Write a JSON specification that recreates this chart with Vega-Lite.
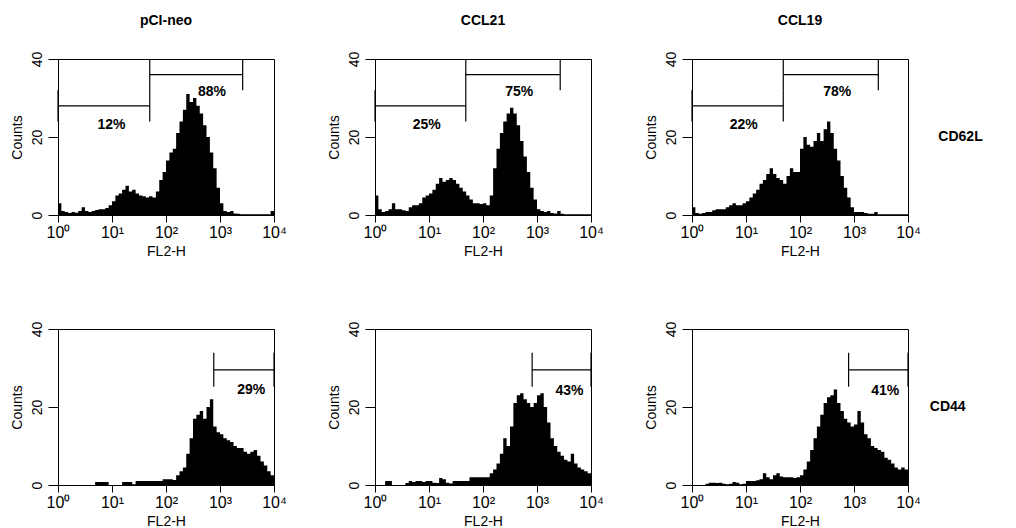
{
"$schema": "https://vega.github.io/schema/vega-lite/v6.json",
"background": "white",
"padding": {"left": 9, "top": 14, "right": 5, "bottom": 3},
"config": {"font": "Liberation Sans", "view": {"stroke": "black", "strokeWidth": 1}, "text": {"font": "Liberation Sans"}},
"data": {"values": [
{"t":"h","c":"pCI-neo","m":"CD62L","x":1,"y":3},{"t":"h","c":"pCI-neo","m":"CD62L","x":1.155,"y":1},{"t":"h","c":"pCI-neo","m":"CD62L","x":1.334,"y":0.8},{"t":"h","c":"pCI-neo","m":"CD62L","x":1.54,"y":0.5},{"t":"h","c":"pCI-neo","m":"CD62L","x":1.778,"y":0.8},{"t":"h","c":"pCI-neo","m":"CD62L","x":2.054,"y":0.6},{"t":"h","c":"pCI-neo","m":"CD62L","x":2.371,"y":1},{"t":"h","c":"pCI-neo","m":"CD62L","x":2.738,"y":2},{"t":"h","c":"pCI-neo","m":"CD62L","x":3.162,"y":1},{"t":"h","c":"pCI-neo","m":"CD62L","x":3.652,"y":0.8},
{"t":"h","c":"pCI-neo","m":"CD62L","x":4.217,"y":1},{"t":"h","c":"pCI-neo","m":"CD62L","x":4.87,"y":1.3},{"t":"h","c":"pCI-neo","m":"CD62L","x":5.623,"y":1.5},{"t":"h","c":"pCI-neo","m":"CD62L","x":6.494,"y":1.5},{"t":"h","c":"pCI-neo","m":"CD62L","x":7.499,"y":1.8},{"t":"h","c":"pCI-neo","m":"CD62L","x":8.66,"y":2.5},{"t":"h","c":"pCI-neo","m":"CD62L","x":10,"y":3.5},{"t":"h","c":"pCI-neo","m":"CD62L","x":11.55,"y":5},{"t":"h","c":"pCI-neo","m":"CD62L","x":13.34,"y":5.5},{"t":"h","c":"pCI-neo","m":"CD62L","x":15.4,"y":6.5},
{"t":"h","c":"pCI-neo","m":"CD62L","x":17.78,"y":7.5},{"t":"h","c":"pCI-neo","m":"CD62L","x":20.54,"y":6},{"t":"h","c":"pCI-neo","m":"CD62L","x":23.71,"y":6.5},{"t":"h","c":"pCI-neo","m":"CD62L","x":27.38,"y":5.5},{"t":"h","c":"pCI-neo","m":"CD62L","x":31.62,"y":5},{"t":"h","c":"pCI-neo","m":"CD62L","x":36.52,"y":4.8},{"t":"h","c":"pCI-neo","m":"CD62L","x":42.17,"y":4.5},{"t":"h","c":"pCI-neo","m":"CD62L","x":48.7,"y":4.8},{"t":"h","c":"pCI-neo","m":"CD62L","x":56.23,"y":4.5},{"t":"h","c":"pCI-neo","m":"CD62L","x":64.94,"y":6},
{"t":"h","c":"pCI-neo","m":"CD62L","x":74.99,"y":9},{"t":"h","c":"pCI-neo","m":"CD62L","x":86.6,"y":11},{"t":"h","c":"pCI-neo","m":"CD62L","x":100,"y":14},{"t":"h","c":"pCI-neo","m":"CD62L","x":115.5,"y":16},{"t":"h","c":"pCI-neo","m":"CD62L","x":133.4,"y":17},{"t":"h","c":"pCI-neo","m":"CD62L","x":154,"y":21},{"t":"h","c":"pCI-neo","m":"CD62L","x":177.8,"y":24},{"t":"h","c":"pCI-neo","m":"CD62L","x":205.4,"y":27},{"t":"h","c":"pCI-neo","m":"CD62L","x":237.1,"y":31},{"t":"h","c":"pCI-neo","m":"CD62L","x":273.8,"y":29},
{"t":"h","c":"pCI-neo","m":"CD62L","x":316.2,"y":30},{"t":"h","c":"pCI-neo","m":"CD62L","x":365.2,"y":28},{"t":"h","c":"pCI-neo","m":"CD62L","x":421.7,"y":26},{"t":"h","c":"pCI-neo","m":"CD62L","x":487,"y":23},{"t":"h","c":"pCI-neo","m":"CD62L","x":562.3,"y":20},{"t":"h","c":"pCI-neo","m":"CD62L","x":649.4,"y":16},{"t":"h","c":"pCI-neo","m":"CD62L","x":749.9,"y":12},{"t":"h","c":"pCI-neo","m":"CD62L","x":866,"y":7},{"t":"h","c":"pCI-neo","m":"CD62L","x":1000,"y":3},{"t":"h","c":"pCI-neo","m":"CD62L","x":1155,"y":1},
{"t":"h","c":"pCI-neo","m":"CD62L","x":1334,"y":0.8},{"t":"h","c":"pCI-neo","m":"CD62L","x":1540,"y":1},{"t":"h","c":"pCI-neo","m":"CD62L","x":1778,"y":0.4},{"t":"h","c":"pCI-neo","m":"CD62L","x":2054,"y":0.3},{"t":"h","c":"pCI-neo","m":"CD62L","x":2371,"y":0.2},{"t":"h","c":"pCI-neo","m":"CD62L","x":2738,"y":0.2},{"t":"h","c":"pCI-neo","m":"CD62L","x":3162,"y":0.2},{"t":"h","c":"pCI-neo","m":"CD62L","x":3652,"y":0.2},{"t":"h","c":"pCI-neo","m":"CD62L","x":4217,"y":0.2},{"t":"h","c":"pCI-neo","m":"CD62L","x":4870,"y":0.2},
{"t":"h","c":"pCI-neo","m":"CD62L","x":5623,"y":0.2},{"t":"h","c":"pCI-neo","m":"CD62L","x":6494,"y":0.2},{"t":"h","c":"pCI-neo","m":"CD62L","x":7499,"y":0.2},{"t":"h","c":"pCI-neo","m":"CD62L","x":8660,"y":1},{"t":"h","c":"pCI-neo","m":"CD62L","x":10000,"y":1},

{"t":"h","c":"CCL21","m":"CD62L","x":1,"y":5},{"t":"h","c":"CCL21","m":"CD62L","x":1.155,"y":1.5},{"t":"h","c":"CCL21","m":"CD62L","x":1.334,"y":0.8},{"t":"h","c":"CCL21","m":"CD62L","x":1.54,"y":1},{"t":"h","c":"CCL21","m":"CD62L","x":1.778,"y":1.5},{"t":"h","c":"CCL21","m":"CD62L","x":2.054,"y":3},{"t":"h","c":"CCL21","m":"CD62L","x":2.371,"y":1.5},{"t":"h","c":"CCL21","m":"CD62L","x":2.738,"y":1.5},{"t":"h","c":"CCL21","m":"CD62L","x":3.162,"y":1.2},{"t":"h","c":"CCL21","m":"CD62L","x":3.652,"y":1},
{"t":"h","c":"CCL21","m":"CD62L","x":4.217,"y":2},{"t":"h","c":"CCL21","m":"CD62L","x":4.87,"y":2.5},{"t":"h","c":"CCL21","m":"CD62L","x":5.623,"y":2.5},{"t":"h","c":"CCL21","m":"CD62L","x":6.494,"y":3},{"t":"h","c":"CCL21","m":"CD62L","x":7.499,"y":4.5},{"t":"h","c":"CCL21","m":"CD62L","x":8.66,"y":5},{"t":"h","c":"CCL21","m":"CD62L","x":10,"y":5.5},{"t":"h","c":"CCL21","m":"CD62L","x":11.55,"y":6.5},{"t":"h","c":"CCL21","m":"CD62L","x":13.34,"y":8},{"t":"h","c":"CCL21","m":"CD62L","x":15.4,"y":9.5},
{"t":"h","c":"CCL21","m":"CD62L","x":17.78,"y":8.5},{"t":"h","c":"CCL21","m":"CD62L","x":20.54,"y":9},{"t":"h","c":"CCL21","m":"CD62L","x":23.71,"y":9.5},{"t":"h","c":"CCL21","m":"CD62L","x":27.38,"y":9},{"t":"h","c":"CCL21","m":"CD62L","x":31.62,"y":8},{"t":"h","c":"CCL21","m":"CD62L","x":36.52,"y":7},{"t":"h","c":"CCL21","m":"CD62L","x":42.17,"y":6},{"t":"h","c":"CCL21","m":"CD62L","x":48.7,"y":5},{"t":"h","c":"CCL21","m":"CD62L","x":56.23,"y":4},{"t":"h","c":"CCL21","m":"CD62L","x":64.94,"y":3},
{"t":"h","c":"CCL21","m":"CD62L","x":74.99,"y":3},{"t":"h","c":"CCL21","m":"CD62L","x":86.6,"y":2.8},{"t":"h","c":"CCL21","m":"CD62L","x":100,"y":3},{"t":"h","c":"CCL21","m":"CD62L","x":115.5,"y":2.5},{"t":"h","c":"CCL21","m":"CD62L","x":133.4,"y":5},{"t":"h","c":"CCL21","m":"CD62L","x":154,"y":12},{"t":"h","c":"CCL21","m":"CD62L","x":177.8,"y":17},{"t":"h","c":"CCL21","m":"CD62L","x":205.4,"y":21},{"t":"h","c":"CCL21","m":"CD62L","x":237.1,"y":24},{"t":"h","c":"CCL21","m":"CD62L","x":273.8,"y":26},
{"t":"h","c":"CCL21","m":"CD62L","x":316.2,"y":27.5},{"t":"h","c":"CCL21","m":"CD62L","x":365.2,"y":26},{"t":"h","c":"CCL21","m":"CD62L","x":421.7,"y":23},{"t":"h","c":"CCL21","m":"CD62L","x":487,"y":19},{"t":"h","c":"CCL21","m":"CD62L","x":562.3,"y":15},{"t":"h","c":"CCL21","m":"CD62L","x":649.4,"y":11},{"t":"h","c":"CCL21","m":"CD62L","x":749.9,"y":7},{"t":"h","c":"CCL21","m":"CD62L","x":866,"y":4},{"t":"h","c":"CCL21","m":"CD62L","x":1000,"y":1.5},{"t":"h","c":"CCL21","m":"CD62L","x":1155,"y":1},
{"t":"h","c":"CCL21","m":"CD62L","x":1334,"y":0.8},{"t":"h","c":"CCL21","m":"CD62L","x":1540,"y":1},{"t":"h","c":"CCL21","m":"CD62L","x":1778,"y":0.5},{"t":"h","c":"CCL21","m":"CD62L","x":2054,"y":0.4},{"t":"h","c":"CCL21","m":"CD62L","x":2371,"y":1},{"t":"h","c":"CCL21","m":"CD62L","x":2738,"y":0.3},{"t":"h","c":"CCL21","m":"CD62L","x":3162,"y":0.2},{"t":"h","c":"CCL21","m":"CD62L","x":3652,"y":0.2},{"t":"h","c":"CCL21","m":"CD62L","x":4217,"y":0.2},{"t":"h","c":"CCL21","m":"CD62L","x":4870,"y":0.2},
{"t":"h","c":"CCL21","m":"CD62L","x":5623,"y":0.2},{"t":"h","c":"CCL21","m":"CD62L","x":6494,"y":0.2},{"t":"h","c":"CCL21","m":"CD62L","x":7499,"y":0.2},{"t":"h","c":"CCL21","m":"CD62L","x":8660,"y":0.2},{"t":"h","c":"CCL21","m":"CD62L","x":10000,"y":0.2},

{"t":"h","c":"CCL19","m":"CD62L","x":1,"y":2},{"t":"h","c":"CCL19","m":"CD62L","x":1.155,"y":0.5},{"t":"h","c":"CCL19","m":"CD62L","x":1.334,"y":0.3},{"t":"h","c":"CCL19","m":"CD62L","x":1.54,"y":0.5},{"t":"h","c":"CCL19","m":"CD62L","x":1.778,"y":0.8},{"t":"h","c":"CCL19","m":"CD62L","x":2.054,"y":0.8},{"t":"h","c":"CCL19","m":"CD62L","x":2.371,"y":1.2},{"t":"h","c":"CCL19","m":"CD62L","x":2.738,"y":1.5},{"t":"h","c":"CCL19","m":"CD62L","x":3.162,"y":1.5},{"t":"h","c":"CCL19","m":"CD62L","x":3.652,"y":1.5},
{"t":"h","c":"CCL19","m":"CD62L","x":4.217,"y":2},{"t":"h","c":"CCL19","m":"CD62L","x":4.87,"y":2.5},{"t":"h","c":"CCL19","m":"CD62L","x":5.623,"y":3},{"t":"h","c":"CCL19","m":"CD62L","x":6.494,"y":2.5},{"t":"h","c":"CCL19","m":"CD62L","x":7.499,"y":2.5},{"t":"h","c":"CCL19","m":"CD62L","x":8.66,"y":3},{"t":"h","c":"CCL19","m":"CD62L","x":10,"y":3.5},{"t":"h","c":"CCL19","m":"CD62L","x":11.55,"y":4.5},{"t":"h","c":"CCL19","m":"CD62L","x":13.34,"y":5.5},{"t":"h","c":"CCL19","m":"CD62L","x":15.4,"y":6.5},
{"t":"h","c":"CCL19","m":"CD62L","x":17.78,"y":8},{"t":"h","c":"CCL19","m":"CD62L","x":20.54,"y":9},{"t":"h","c":"CCL19","m":"CD62L","x":23.71,"y":10.5},{"t":"h","c":"CCL19","m":"CD62L","x":27.38,"y":12},{"t":"h","c":"CCL19","m":"CD62L","x":31.62,"y":10.5},{"t":"h","c":"CCL19","m":"CD62L","x":36.52,"y":9.5},{"t":"h","c":"CCL19","m":"CD62L","x":42.17,"y":9},{"t":"h","c":"CCL19","m":"CD62L","x":48.7,"y":8},{"t":"h","c":"CCL19","m":"CD62L","x":56.23,"y":10},{"t":"h","c":"CCL19","m":"CD62L","x":64.94,"y":12},
{"t":"h","c":"CCL19","m":"CD62L","x":74.99,"y":11},{"t":"h","c":"CCL19","m":"CD62L","x":86.6,"y":11},{"t":"h","c":"CCL19","m":"CD62L","x":100,"y":17},{"t":"h","c":"CCL19","m":"CD62L","x":115.5,"y":20},{"t":"h","c":"CCL19","m":"CD62L","x":133.4,"y":18},{"t":"h","c":"CCL19","m":"CD62L","x":154,"y":17.5},{"t":"h","c":"CCL19","m":"CD62L","x":177.8,"y":19},{"t":"h","c":"CCL19","m":"CD62L","x":205.4,"y":21},{"t":"h","c":"CCL19","m":"CD62L","x":237.1,"y":19},{"t":"h","c":"CCL19","m":"CD62L","x":273.8,"y":22},
{"t":"h","c":"CCL19","m":"CD62L","x":316.2,"y":24},{"t":"h","c":"CCL19","m":"CD62L","x":365.2,"y":21},{"t":"h","c":"CCL19","m":"CD62L","x":421.7,"y":17},{"t":"h","c":"CCL19","m":"CD62L","x":487,"y":14},{"t":"h","c":"CCL19","m":"CD62L","x":562.3,"y":10},{"t":"h","c":"CCL19","m":"CD62L","x":649.4,"y":7},{"t":"h","c":"CCL19","m":"CD62L","x":749.9,"y":4.5},{"t":"h","c":"CCL19","m":"CD62L","x":866,"y":2},{"t":"h","c":"CCL19","m":"CD62L","x":1000,"y":0.8},{"t":"h","c":"CCL19","m":"CD62L","x":1155,"y":0.8},
{"t":"h","c":"CCL19","m":"CD62L","x":1334,"y":0.8},{"t":"h","c":"CCL19","m":"CD62L","x":1540,"y":0.5},{"t":"h","c":"CCL19","m":"CD62L","x":1778,"y":0.3},{"t":"h","c":"CCL19","m":"CD62L","x":2054,"y":0.3},{"t":"h","c":"CCL19","m":"CD62L","x":2371,"y":0.8},{"t":"h","c":"CCL19","m":"CD62L","x":2738,"y":0.2},{"t":"h","c":"CCL19","m":"CD62L","x":3162,"y":0.2},{"t":"h","c":"CCL19","m":"CD62L","x":3652,"y":0.2},{"t":"h","c":"CCL19","m":"CD62L","x":4217,"y":0.2},{"t":"h","c":"CCL19","m":"CD62L","x":4870,"y":0.2},
{"t":"h","c":"CCL19","m":"CD62L","x":5623,"y":0.2},{"t":"h","c":"CCL19","m":"CD62L","x":6494,"y":0.2},{"t":"h","c":"CCL19","m":"CD62L","x":7499,"y":0.2},{"t":"h","c":"CCL19","m":"CD62L","x":8660,"y":0.2},{"t":"h","c":"CCL19","m":"CD62L","x":10000,"y":0.2},

{"t":"h","c":"pCI-neo","m":"CD44","x":1,"y":0},{"t":"h","c":"pCI-neo","m":"CD44","x":1.155,"y":0},{"t":"h","c":"pCI-neo","m":"CD44","x":1.334,"y":0},{"t":"h","c":"pCI-neo","m":"CD44","x":1.54,"y":0},{"t":"h","c":"pCI-neo","m":"CD44","x":1.778,"y":0},{"t":"h","c":"pCI-neo","m":"CD44","x":2.054,"y":0},{"t":"h","c":"pCI-neo","m":"CD44","x":2.371,"y":0},{"t":"h","c":"pCI-neo","m":"CD44","x":2.738,"y":0},{"t":"h","c":"pCI-neo","m":"CD44","x":3.162,"y":0},{"t":"h","c":"pCI-neo","m":"CD44","x":3.652,"y":0},
{"t":"h","c":"pCI-neo","m":"CD44","x":4.217,"y":0},{"t":"h","c":"pCI-neo","m":"CD44","x":4.87,"y":0.8},{"t":"h","c":"pCI-neo","m":"CD44","x":5.623,"y":0.8},{"t":"h","c":"pCI-neo","m":"CD44","x":6.494,"y":0.8},{"t":"h","c":"pCI-neo","m":"CD44","x":7.499,"y":0.8},{"t":"h","c":"pCI-neo","m":"CD44","x":8.66,"y":0},{"t":"h","c":"pCI-neo","m":"CD44","x":10,"y":0},{"t":"h","c":"pCI-neo","m":"CD44","x":11.55,"y":0},{"t":"h","c":"pCI-neo","m":"CD44","x":13.34,"y":0},{"t":"h","c":"pCI-neo","m":"CD44","x":15.4,"y":0.8},
{"t":"h","c":"pCI-neo","m":"CD44","x":17.78,"y":0.8},{"t":"h","c":"pCI-neo","m":"CD44","x":20.54,"y":0.8},{"t":"h","c":"pCI-neo","m":"CD44","x":23.71,"y":0.2},{"t":"h","c":"pCI-neo","m":"CD44","x":27.38,"y":1},{"t":"h","c":"pCI-neo","m":"CD44","x":31.62,"y":1},{"t":"h","c":"pCI-neo","m":"CD44","x":36.52,"y":1},{"t":"h","c":"pCI-neo","m":"CD44","x":42.17,"y":1},{"t":"h","c":"pCI-neo","m":"CD44","x":48.7,"y":1},{"t":"h","c":"pCI-neo","m":"CD44","x":56.23,"y":1},{"t":"h","c":"pCI-neo","m":"CD44","x":64.94,"y":1},
{"t":"h","c":"pCI-neo","m":"CD44","x":74.99,"y":1},{"t":"h","c":"pCI-neo","m":"CD44","x":86.6,"y":1.5},{"t":"h","c":"pCI-neo","m":"CD44","x":100,"y":1.5},{"t":"h","c":"pCI-neo","m":"CD44","x":115.5,"y":1.5},{"t":"h","c":"pCI-neo","m":"CD44","x":133.4,"y":1.3},{"t":"h","c":"pCI-neo","m":"CD44","x":154,"y":2.5},{"t":"h","c":"pCI-neo","m":"CD44","x":177.8,"y":3.5},{"t":"h","c":"pCI-neo","m":"CD44","x":205.4,"y":4.5},{"t":"h","c":"pCI-neo","m":"CD44","x":237.1,"y":8},{"t":"h","c":"pCI-neo","m":"CD44","x":273.8,"y":12},
{"t":"h","c":"pCI-neo","m":"CD44","x":316.2,"y":17},{"t":"h","c":"pCI-neo","m":"CD44","x":365.2,"y":18},{"t":"h","c":"pCI-neo","m":"CD44","x":421.7,"y":19},{"t":"h","c":"pCI-neo","m":"CD44","x":487,"y":17},{"t":"h","c":"pCI-neo","m":"CD44","x":562.3,"y":20},{"t":"h","c":"pCI-neo","m":"CD44","x":649.4,"y":22},{"t":"h","c":"pCI-neo","m":"CD44","x":749.9,"y":15},{"t":"h","c":"pCI-neo","m":"CD44","x":866,"y":13.5},{"t":"h","c":"pCI-neo","m":"CD44","x":1000,"y":13},{"t":"h","c":"pCI-neo","m":"CD44","x":1155,"y":12},
{"t":"h","c":"pCI-neo","m":"CD44","x":1334,"y":11.5},{"t":"h","c":"pCI-neo","m":"CD44","x":1540,"y":11},{"t":"h","c":"pCI-neo","m":"CD44","x":1778,"y":10},{"t":"h","c":"pCI-neo","m":"CD44","x":2054,"y":9.5},{"t":"h","c":"pCI-neo","m":"CD44","x":2371,"y":9.5},{"t":"h","c":"pCI-neo","m":"CD44","x":2738,"y":8.5},{"t":"h","c":"pCI-neo","m":"CD44","x":3162,"y":8},{"t":"h","c":"pCI-neo","m":"CD44","x":3652,"y":8.5},{"t":"h","c":"pCI-neo","m":"CD44","x":4217,"y":9},{"t":"h","c":"pCI-neo","m":"CD44","x":4870,"y":7.5},
{"t":"h","c":"pCI-neo","m":"CD44","x":5623,"y":6},{"t":"h","c":"pCI-neo","m":"CD44","x":6494,"y":5},{"t":"h","c":"pCI-neo","m":"CD44","x":7499,"y":3.5},{"t":"h","c":"pCI-neo","m":"CD44","x":8660,"y":2.5},{"t":"h","c":"pCI-neo","m":"CD44","x":10000,"y":2.5},

{"t":"h","c":"CCL21","m":"CD44","x":1,"y":0},{"t":"h","c":"CCL21","m":"CD44","x":1.155,"y":0},{"t":"h","c":"CCL21","m":"CD44","x":1.334,"y":0},{"t":"h","c":"CCL21","m":"CD44","x":1.54,"y":1},{"t":"h","c":"CCL21","m":"CD44","x":1.778,"y":1},{"t":"h","c":"CCL21","m":"CD44","x":2.054,"y":0},{"t":"h","c":"CCL21","m":"CD44","x":2.371,"y":0},{"t":"h","c":"CCL21","m":"CD44","x":2.738,"y":0},{"t":"h","c":"CCL21","m":"CD44","x":3.162,"y":0},{"t":"h","c":"CCL21","m":"CD44","x":3.652,"y":0.5},
{"t":"h","c":"CCL21","m":"CD44","x":4.217,"y":1},{"t":"h","c":"CCL21","m":"CD44","x":4.87,"y":0.8},{"t":"h","c":"CCL21","m":"CD44","x":5.623,"y":1},{"t":"h","c":"CCL21","m":"CD44","x":6.494,"y":1},{"t":"h","c":"CCL21","m":"CD44","x":7.499,"y":0.8},{"t":"h","c":"CCL21","m":"CD44","x":8.66,"y":1},{"t":"h","c":"CCL21","m":"CD44","x":10,"y":1},{"t":"h","c":"CCL21","m":"CD44","x":11.55,"y":0.6},{"t":"h","c":"CCL21","m":"CD44","x":13.34,"y":0.5},{"t":"h","c":"CCL21","m":"CD44","x":15.4,"y":1.8},
{"t":"h","c":"CCL21","m":"CD44","x":17.78,"y":1.5},{"t":"h","c":"CCL21","m":"CD44","x":20.54,"y":0.6},{"t":"h","c":"CCL21","m":"CD44","x":23.71,"y":0.4},{"t":"h","c":"CCL21","m":"CD44","x":27.38,"y":1},{"t":"h","c":"CCL21","m":"CD44","x":31.62,"y":1},{"t":"h","c":"CCL21","m":"CD44","x":36.52,"y":1},{"t":"h","c":"CCL21","m":"CD44","x":42.17,"y":1},{"t":"h","c":"CCL21","m":"CD44","x":48.7,"y":1},{"t":"h","c":"CCL21","m":"CD44","x":56.23,"y":2},{"t":"h","c":"CCL21","m":"CD44","x":64.94,"y":2},
{"t":"h","c":"CCL21","m":"CD44","x":74.99,"y":2},{"t":"h","c":"CCL21","m":"CD44","x":86.6,"y":2},{"t":"h","c":"CCL21","m":"CD44","x":100,"y":2},{"t":"h","c":"CCL21","m":"CD44","x":115.5,"y":2},{"t":"h","c":"CCL21","m":"CD44","x":133.4,"y":3},{"t":"h","c":"CCL21","m":"CD44","x":154,"y":4},{"t":"h","c":"CCL21","m":"CD44","x":177.8,"y":5.5},{"t":"h","c":"CCL21","m":"CD44","x":205.4,"y":8},{"t":"h","c":"CCL21","m":"CD44","x":237.1,"y":12},{"t":"h","c":"CCL21","m":"CD44","x":273.8,"y":10},
{"t":"h","c":"CCL21","m":"CD44","x":316.2,"y":15},{"t":"h","c":"CCL21","m":"CD44","x":365.2,"y":21},{"t":"h","c":"CCL21","m":"CD44","x":421.7,"y":23},{"t":"h","c":"CCL21","m":"CD44","x":487,"y":23.5},{"t":"h","c":"CCL21","m":"CD44","x":562.3,"y":22},{"t":"h","c":"CCL21","m":"CD44","x":649.4,"y":21},{"t":"h","c":"CCL21","m":"CD44","x":749.9,"y":20},{"t":"h","c":"CCL21","m":"CD44","x":866,"y":21},{"t":"h","c":"CCL21","m":"CD44","x":1000,"y":23},{"t":"h","c":"CCL21","m":"CD44","x":1155,"y":23.5},
{"t":"h","c":"CCL21","m":"CD44","x":1334,"y":20},{"t":"h","c":"CCL21","m":"CD44","x":1540,"y":16},{"t":"h","c":"CCL21","m":"CD44","x":1778,"y":12},{"t":"h","c":"CCL21","m":"CD44","x":2054,"y":10},{"t":"h","c":"CCL21","m":"CD44","x":2371,"y":8.5},{"t":"h","c":"CCL21","m":"CD44","x":2738,"y":7.5},{"t":"h","c":"CCL21","m":"CD44","x":3162,"y":6.5},{"t":"h","c":"CCL21","m":"CD44","x":3652,"y":6},{"t":"h","c":"CCL21","m":"CD44","x":4217,"y":8},{"t":"h","c":"CCL21","m":"CD44","x":4870,"y":5.5},
{"t":"h","c":"CCL21","m":"CD44","x":5623,"y":4.5},{"t":"h","c":"CCL21","m":"CD44","x":6494,"y":4},{"t":"h","c":"CCL21","m":"CD44","x":7499,"y":3.5},{"t":"h","c":"CCL21","m":"CD44","x":8660,"y":3},{"t":"h","c":"CCL21","m":"CD44","x":10000,"y":3},

{"t":"h","c":"CCL19","m":"CD44","x":1,"y":0},{"t":"h","c":"CCL19","m":"CD44","x":1.155,"y":0},{"t":"h","c":"CCL19","m":"CD44","x":1.334,"y":0},{"t":"h","c":"CCL19","m":"CD44","x":1.54,"y":0},{"t":"h","c":"CCL19","m":"CD44","x":1.778,"y":0.3},{"t":"h","c":"CCL19","m":"CD44","x":2.054,"y":0.6},{"t":"h","c":"CCL19","m":"CD44","x":2.371,"y":0.6},{"t":"h","c":"CCL19","m":"CD44","x":2.738,"y":0.5},{"t":"h","c":"CCL19","m":"CD44","x":3.162,"y":0.6},{"t":"h","c":"CCL19","m":"CD44","x":3.652,"y":0.3},
{"t":"h","c":"CCL19","m":"CD44","x":4.217,"y":0.2},{"t":"h","c":"CCL19","m":"CD44","x":4.87,"y":0.3},{"t":"h","c":"CCL19","m":"CD44","x":5.623,"y":0.8},{"t":"h","c":"CCL19","m":"CD44","x":6.494,"y":0.6},{"t":"h","c":"CCL19","m":"CD44","x":7.499,"y":0.2},{"t":"h","c":"CCL19","m":"CD44","x":8.66,"y":0.3},{"t":"h","c":"CCL19","m":"CD44","x":10,"y":1},{"t":"h","c":"CCL19","m":"CD44","x":11.55,"y":1},{"t":"h","c":"CCL19","m":"CD44","x":13.34,"y":1},{"t":"h","c":"CCL19","m":"CD44","x":15.4,"y":1.2},
{"t":"h","c":"CCL19","m":"CD44","x":17.78,"y":1.5},{"t":"h","c":"CCL19","m":"CD44","x":20.54,"y":3},{"t":"h","c":"CCL19","m":"CD44","x":23.71,"y":2},{"t":"h","c":"CCL19","m":"CD44","x":27.38,"y":1.5},{"t":"h","c":"CCL19","m":"CD44","x":31.62,"y":2.5},{"t":"h","c":"CCL19","m":"CD44","x":36.52,"y":3},{"t":"h","c":"CCL19","m":"CD44","x":42.17,"y":2.2},{"t":"h","c":"CCL19","m":"CD44","x":48.7,"y":2},{"t":"h","c":"CCL19","m":"CD44","x":56.23,"y":2},{"t":"h","c":"CCL19","m":"CD44","x":64.94,"y":2},
{"t":"h","c":"CCL19","m":"CD44","x":74.99,"y":1.8},{"t":"h","c":"CCL19","m":"CD44","x":86.6,"y":2},{"t":"h","c":"CCL19","m":"CD44","x":100,"y":2.5},{"t":"h","c":"CCL19","m":"CD44","x":115.5,"y":4},{"t":"h","c":"CCL19","m":"CD44","x":133.4,"y":6},{"t":"h","c":"CCL19","m":"CD44","x":154,"y":9},{"t":"h","c":"CCL19","m":"CD44","x":177.8,"y":12},{"t":"h","c":"CCL19","m":"CD44","x":205.4,"y":15},{"t":"h","c":"CCL19","m":"CD44","x":237.1,"y":18},{"t":"h","c":"CCL19","m":"CD44","x":273.8,"y":21},
{"t":"h","c":"CCL19","m":"CD44","x":316.2,"y":22.5},{"t":"h","c":"CCL19","m":"CD44","x":365.2,"y":23},{"t":"h","c":"CCL19","m":"CD44","x":421.7,"y":24.5},{"t":"h","c":"CCL19","m":"CD44","x":487,"y":21},{"t":"h","c":"CCL19","m":"CD44","x":562.3,"y":19},{"t":"h","c":"CCL19","m":"CD44","x":649.4,"y":17},{"t":"h","c":"CCL19","m":"CD44","x":749.9,"y":16},{"t":"h","c":"CCL19","m":"CD44","x":866,"y":15},{"t":"h","c":"CCL19","m":"CD44","x":1000,"y":15.5},{"t":"h","c":"CCL19","m":"CD44","x":1155,"y":19},
{"t":"h","c":"CCL19","m":"CD44","x":1334,"y":16},{"t":"h","c":"CCL19","m":"CD44","x":1540,"y":13},{"t":"h","c":"CCL19","m":"CD44","x":1778,"y":12},{"t":"h","c":"CCL19","m":"CD44","x":2054,"y":10},{"t":"h","c":"CCL19","m":"CD44","x":2371,"y":9.5},{"t":"h","c":"CCL19","m":"CD44","x":2738,"y":9},{"t":"h","c":"CCL19","m":"CD44","x":3162,"y":8.5},{"t":"h","c":"CCL19","m":"CD44","x":3652,"y":7},{"t":"h","c":"CCL19","m":"CD44","x":4217,"y":6.5},{"t":"h","c":"CCL19","m":"CD44","x":4870,"y":5.5},
{"t":"h","c":"CCL19","m":"CD44","x":5623,"y":4.5},{"t":"h","c":"CCL19","m":"CD44","x":6494,"y":4},{"t":"h","c":"CCL19","m":"CD44","x":7499,"y":4.5},{"t":"h","c":"CCL19","m":"CD44","x":8660,"y":4},{"t":"h","c":"CCL19","m":"CD44","x":10000,"y":4},

{"t":"g","c":"pCI-neo","m":"CD62L","x1":1,"x2":50,"gy":28,"ylo":24,"yhi":32,"lab":"12%","lx":9.8,"ly":23.2},
{"t":"g","c":"pCI-neo","m":"CD62L","x1":50,"x2":2630,"gy":36,"ylo":32,"yhi":40,"lab":"88%","lx":708,"ly":31.6},
{"t":"g","c":"CCL21","m":"CD62L","x1":1,"x2":48,"gy":28,"ylo":24,"yhi":32,"lab":"25%","lx":9.1,"ly":23.2},
{"t":"g","c":"CCL21","m":"CD62L","x1":48,"x2":2690,"gy":36,"ylo":32,"yhi":40,"lab":"75%","lx":468,"ly":31.6},
{"t":"g","c":"CCL19","m":"CD62L","x1":1,"x2":49,"gy":28,"ylo":24,"yhi":32,"lab":"22%","lx":9.1,"ly":23.2},
{"t":"g","c":"CCL19","m":"CD62L","x1":49,"x2":2820,"gy":36,"ylo":32,"yhi":40,"lab":"78%","lx":490,"ly":31.6},
{"t":"g","c":"pCI-neo","m":"CD44","x1":767,"x2":10000,"gy":29.5,"ylo":25.2,"yhi":33.9,"lab":"29%","lx":3800,"ly":24.4},
{"t":"g","c":"CCL21","m":"CD44","x1":813,"x2":10000,"gy":29.5,"ylo":25.2,"yhi":33.9,"lab":"43%","lx":3980,"ly":24.2},
{"t":"g","c":"CCL19","m":"CD44","x1":794,"x2":10000,"gy":29.5,"ylo":25.2,"yhi":33.9,"lab":"41%","lx":3800,"ly":24.2}
]},
"facet": {
  "column": {"field": "c", "type": "nominal", "sort": ["pCI-neo", "CCL21", "CCL19"], "title": null,
    "header": {"labelFont": "Liberation Sans", "labelFontSize": 14, "labelFontWeight": "bold", "labelColor": "black", "labelPadding": 22}},
  "row": {"field": "m", "type": "nominal", "sort": ["CD62L", "CD44"], "title": null,
    "header": {"labelOrient": "right", "labelAngle": 0, "labelAlign": "left", "labelBaseline": "middle", "labelFont": "Liberation Sans", "labelFontSize": 14, "labelFontWeight": "bold", "labelColor": "black", "labelPadding": -27}}
},
"spacing": {"row": 61, "column": 39},
"resolve": {"axis": {"x": "independent", "y": "independent"}},
"spec": {
  "width": 216,
  "height": 156,
  "layer": [
    {
      "transform": [{"filter": "datum.t == 'h'"}],
      "mark": {"type": "area", "interpolate": "step-after", "color": "black", "clip": true},
      "encoding": {
        "x": {"field": "x", "type": "quantitative",
          "scale": {"type": "log", "domain": [1, 10000], "nice": false},
          "axis": {"orient": "bottom", "title": "FL2-H", "titleFont": "Liberation Sans", "titleFontSize": 14, "titleFontWeight": "normal", "titleColor": "black", "titlePadding": 4,
            "values": [1, 10, 100, 1000, 10000],
            "labelExpr": "datum.value == 1 ? '10⁰' : datum.value == 10 ? '10¹' : datum.value == 100 ? '10²' : datum.value == 1000 ? '10³' : '10⁴'",
            "labelFont": "Liberation Sans", "labelFontSize": 16, "labelColor": "black", "labelOverlap": false, "labelFlush": false, "labelPadding": 2,
            "tickSize": 7, "tickColor": "black", "domainColor": "black", "grid": false}},
        "y": {"field": "y", "type": "quantitative",
          "scale": {"domain": [0, 40], "nice": false},
          "axis": {"orient": "left", "title": "Counts", "titleFont": "Liberation Sans", "titleFontSize": 14, "titleFontWeight": "normal", "titleColor": "black", "titlePadding": 6,
            "values": [0, 10, 20, 30, 40],
            "labelAngle": 270, "labelAlign": "center", "labelBaseline": "bottom",
            "labelFont": "Liberation Sans", "labelFontSize": 14, "labelColor": "black", "labelOverlap": false, "labelFlush": false, "labelPadding": 4,
            "tickSize": 10, "tickColor": "black", "domainColor": "black", "grid": false}}
      }
    },
    {
      "transform": [{"filter": "datum.t == 'g'"}],
      "mark": {"type": "rule", "color": "black", "strokeWidth": 1.2},
      "encoding": {
        "x": {"field": "x1", "type": "quantitative"},
        "x2": {"field": "x2"},
        "y": {"field": "gy", "type": "quantitative"}
      }
    },
    {
      "transform": [{"filter": "datum.t == 'g'"}],
      "mark": {"type": "rule", "color": "black", "strokeWidth": 1.2},
      "encoding": {
        "x": {"field": "x1", "type": "quantitative"},
        "y": {"field": "ylo", "type": "quantitative"},
        "y2": {"field": "yhi"}
      }
    },
    {
      "transform": [{"filter": "datum.t == 'g'"}],
      "mark": {"type": "rule", "color": "black", "strokeWidth": 1.2},
      "encoding": {
        "x": {"field": "x2", "type": "quantitative"},
        "y": {"field": "ylo", "type": "quantitative"},
        "y2": {"field": "yhi"}
      }
    },
    {
      "transform": [{"filter": "datum.t == 'g'"}],
      "mark": {"type": "text", "font": "Liberation Sans", "fontSize": 14, "fontWeight": "bold", "color": "black", "align": "center", "baseline": "middle"},
      "encoding": {
        "x": {"field": "lx", "type": "quantitative"},
        "y": {"field": "ly", "type": "quantitative"},
        "text": {"field": "lab", "type": "nominal"}
      }
    }
  ]
}
}
